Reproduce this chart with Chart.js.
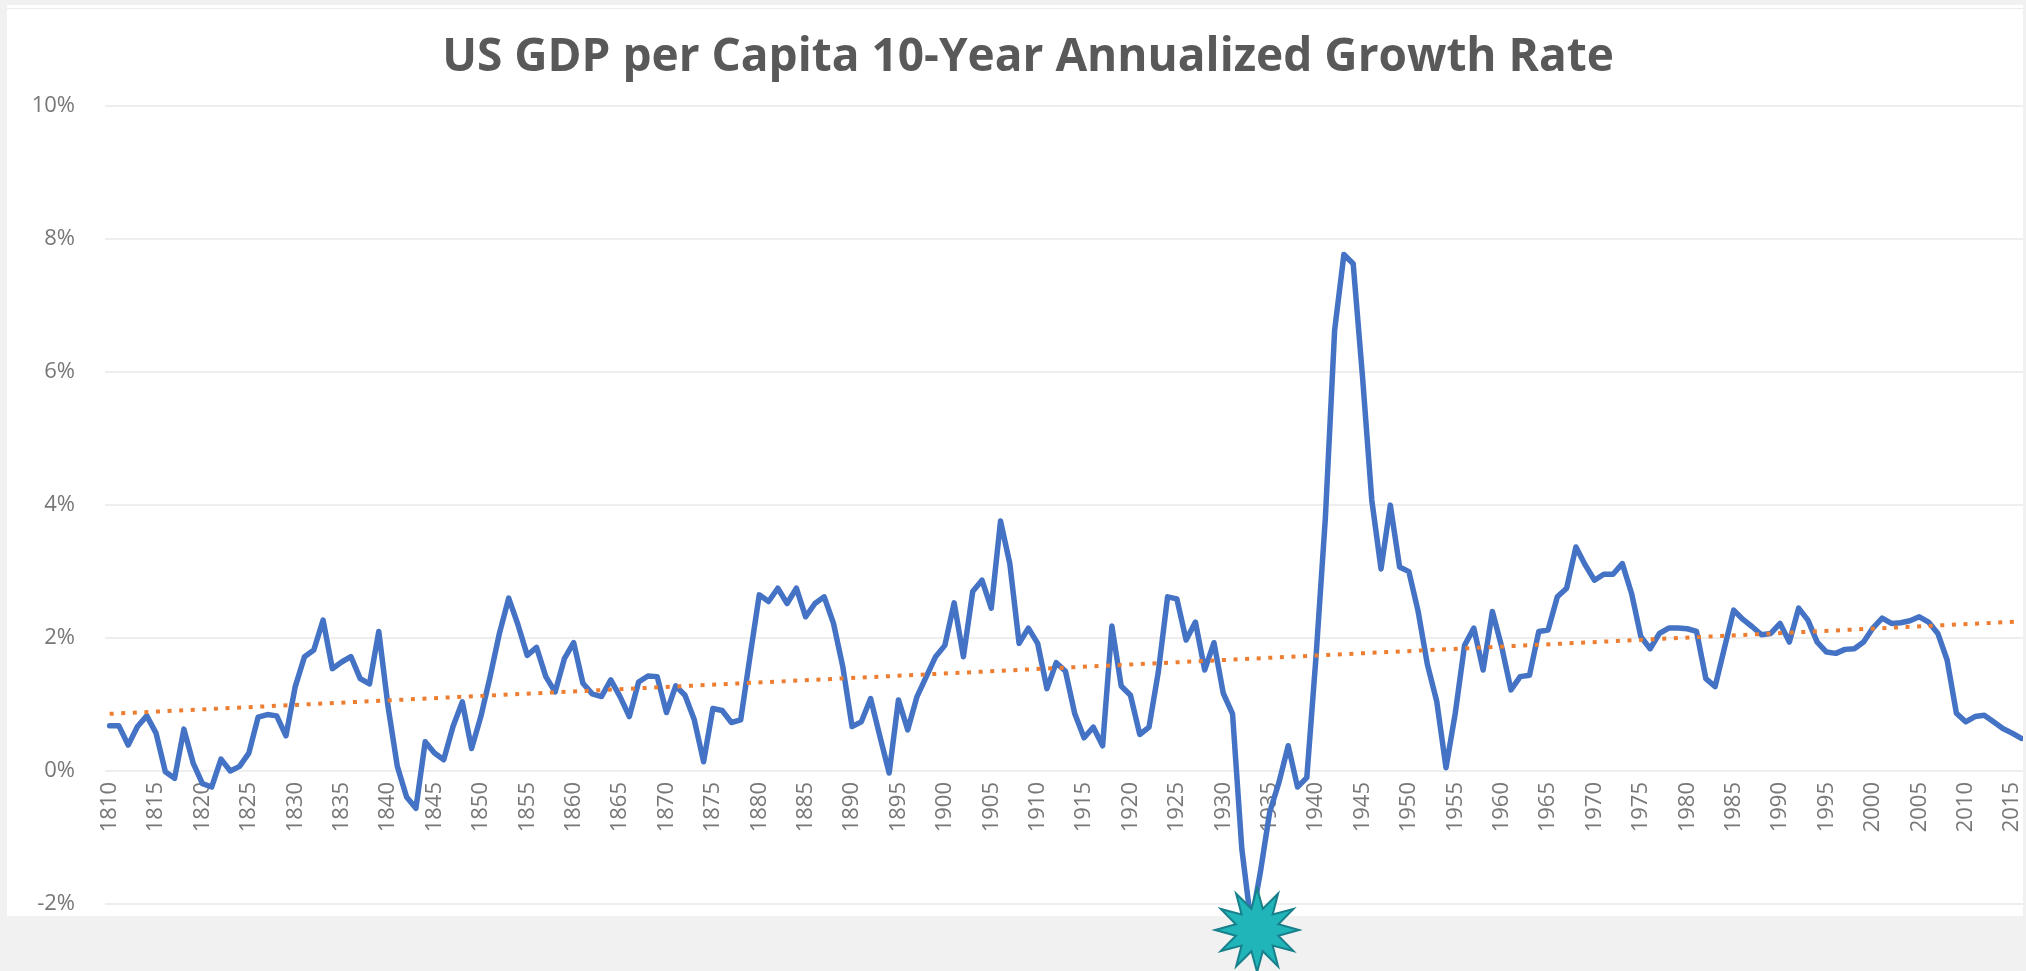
<!DOCTYPE html>
<html>
<head>
<meta charset="utf-8">
<title>US GDP per Capita 10-Year Annualized Growth Rate</title>
<script src="https://cdn.jsdelivr.net/npm/chart.js@4.4.1/dist/chart.umd.min.js"></script>
<style>
  html, body { margin: 0; padding: 0; background: #f1f1f1; overflow: hidden; }
  #wrap { position: absolute; left: 0; top: 0; width: 2026px; height: 971px; }
  canvas { display: block; }
</style>
</head>
<body>
<div id="wrap"><canvas id="gdp" width="2026" height="971"></canvas></div>
<script>
// Years on the category axis
const firstYear = 1810;
const lastYear = 2016;
const years = [];
for (let y = firstYear; y <= lastYear; y++) years.push(String(y));

// 10-year annualized growth of real GDP per capita, % (one row per decade)
const growth1810s = [0.68, 0.68, 0.39, 0.67, 0.83, 0.57, -0.01, -0.11, 0.63, 0.12];
const growth1820s = [-0.19, -0.24, 0.18, 0.00, 0.07, 0.27, 0.81, 0.85, 0.83, 0.53];
const growth1830s = [1.27, 1.72, 1.82, 2.27, 1.54, 1.64, 1.72, 1.39, 1.31, 2.10];
const growth1840s = [0.97, 0.07, -0.39, -0.56, 0.44, 0.27, 0.17, 0.67, 1.04, 0.34];
const growth1850s = [0.82, 1.42, 2.07, 2.60, 2.20, 1.74, 1.86, 1.42, 1.19, 1.69];
const growth1860s = [1.93, 1.32, 1.16, 1.12, 1.37, 1.12, 0.82, 1.34, 1.43, 1.42];
const growth1870s = [0.88, 1.28, 1.14, 0.77, 0.14, 0.94, 0.91, 0.73, 0.77, 1.72];
const growth1880s = [2.65, 2.55, 2.75, 2.52, 2.75, 2.32, 2.52, 2.62, 2.22, 1.57];
const growth1890s = [0.67, 0.74, 1.09, 0.52, -0.03, 1.07, 0.62, 1.12, 1.42, 1.72];
const growth1900s = [1.89, 2.53, 1.72, 2.70, 2.87, 2.45, 3.76, 3.12, 1.92, 2.15];
const growth1910s = [1.92, 1.24, 1.63, 1.50, 0.86, 0.50, 0.66, 0.38, 2.18, 1.28];
const growth1920s = [1.14, 0.55, 0.66, 1.49, 2.62, 2.59, 1.97, 2.24, 1.52, 1.93];
const growth1930s = [1.17, 0.86, -1.17, -2.30, -1.52, -0.62, -0.17, 0.38, -0.24, -0.10];
const growth1940s = [1.73, 3.80, 6.63, 7.77, 7.63, 5.94, 4.08, 3.04, 4.00, 3.07];
const growth1950s = [3.00, 2.40, 1.60, 1.05, 0.05, 0.87, 1.89, 2.15, 1.52, 2.40];
const growth1960s = [1.87, 1.22, 1.42, 1.44, 2.10, 2.12, 2.62, 2.75, 3.37, 3.10];
const growth1970s = [2.87, 2.96, 2.96, 3.12, 2.67, 2.02, 1.84, 2.07, 2.15, 2.15];
const growth1980s = [2.14, 2.10, 1.39, 1.27, 1.85, 2.42, 2.28, 2.17, 2.05, 2.07];
const growth1990s = [2.22, 1.94, 2.45, 2.27, 1.94, 1.79, 1.77, 1.83, 1.84, 1.94];
const growth2000s = [2.15, 2.30, 2.22, 2.23, 2.26, 2.32, 2.24, 2.07, 1.67, 0.87];
const growth2010s = [0.74, 0.82, 0.84, 0.74, 0.64, 0.57, 0.49];

const growth = [].concat(
  growth1810s, growth1820s, growth1830s, growth1840s, growth1850s, growth1860s,
  growth1870s, growth1880s, growth1890s, growth1900s, growth1910s, growth1920s,
  growth1930s, growth1940s, growth1950s, growth1960s, growth1970s, growth1980s,
  growth1990s, growth2000s, growth2010s
);

// Linear trend line: value at the first and at the last year, %
const trendEnds = [0.86, 2.25];
const trend = years.map((_, i) => i === 0 ? trendEnds[0] : (i === years.length - 1 ? trendEnds[1] : null));

// Y axis ticks, %
const yTicks = [-2, 0, 2, 4, 6, 8, 10];

// Year of the Depression low that gets the burst marker
const burstYear = '1933';

const panelPlugin = {
  id: 'panel',
  beforeDraw(chart) {
    const ctx = chart.ctx;
    ctx.save();
    ctx.fillStyle = '#f1f1f1';
    ctx.fillRect(0, 0, chart.width, chart.height);
    ctx.fillStyle = '#ffffff';
    ctx.fillRect(7, 5, 2016, 911);
    ctx.fillStyle = '#ececec';
    ctx.fillRect(7, 8, 2016, 1);
    ctx.restore();
  }
};

const burstPlugin = {
  id: 'burst',
  afterDraw(chart) {
    const ctx = chart.ctx;
    const xs = chart.scales.x, ys = chart.scales.y;
    const cx = xs.getPixelForValue(years.indexOf(burstYear)) + 6;
    const cy = ys.getPixelForValue(yTicks[0]) + 26;
    const spikes = 12, outer = 42, inner = 22;
    ctx.save();
    ctx.beginPath();
    for (let i = 0; i < spikes * 2; i++) {
      const r = i % 2 === 0 ? outer : inner;
      const a = -Math.PI / 2 + i * Math.PI / spikes;
      const px = cx + r * Math.cos(a), py = cy + r * Math.sin(a);
      if (i === 0) ctx.moveTo(px, py); else ctx.lineTo(px, py);
    }
    ctx.closePath();
    ctx.fillStyle = '#1fb5b9';
    ctx.fill();
    ctx.lineWidth = 2;
    ctx.strokeStyle = '#17808a';
    ctx.stroke();
    // right-hand frame edge
    ctx.fillStyle = '#f1f1f1';
    ctx.fillRect(2023, 0, 3, chart.height);
    ctx.restore();
  }
};

new Chart(document.getElementById('gdp'), {
  type: 'line',
  data: {
    labels: years,
    datasets: [
      {
        label: 'Growth rate',
        data: growth,
        borderColor: '#4472c4',
        borderWidth: 5.5,
        borderJoinStyle: 'round',
        borderCapStyle: 'round',
        pointRadius: 0,
        tension: 0,
        clip: false,
        order: 1
      },
      {
        label: 'Trend',
        data: trend,
        spanGaps: true,
        borderColor: '#ed7d31',
        borderWidth: 4,
        borderDash: [4, 7.6],
        pointRadius: 0,
        tension: 0,
        order: 0
      }
    ]
  },
  options: {
    responsive: false,
    animation: false,
    events: [],
    layout: { padding: { left: 30, right: 0, top: 0, bottom: 67 } },
    plugins: {
      legend: { display: false },
      tooltip: { enabled: false },
      title: {
        display: true,
        text: 'US GDP per Capita 10-Year Annualized Growth Rate',
        color: '#595959',
        font: { family: 'Open Sans', size: 46, weight: 'bold' },
        padding: { top: 30, bottom: 21 }
      }
    },
    scales: {
      x: {
        type: 'category',
        position: { y: 0 },
        offset: true,
        grid: { display: false, drawTicks: false },
        border: { display: false },
        ticks: {
          autoSkip: false,
          maxRotation: 90,
          minRotation: 90,
          padding: 11,
          color: '#777777',
          font: { family: 'Open Sans', size: 22 },
          callback: (v, i) => (Number(years[i]) % 5 === 0 ? years[i] : '')
        },
        afterFit: (s) => { s.height = 0; s.paddingLeft = 0; s.paddingRight = 0; }
      },
      y: {
        min: yTicks[0],
        max: yTicks[yTicks.length - 1],
        afterBuildTicks: (s) => { s.ticks = yTicks.map(v => ({ value: v })); },
        grid: { color: '#eeeeee', lineWidth: 2, drawTicks: false },
        border: { display: false },
        ticks: {
          padding: 30,
          color: '#777777',
          font: { family: 'Open Sans', size: 22 },
          callback: (v) => v + '%'
        },
        afterFit: (s) => { s.width = 75; }
      }
    }
  },
  plugins: [panelPlugin, burstPlugin]
});
</script>
</body>
</html>
